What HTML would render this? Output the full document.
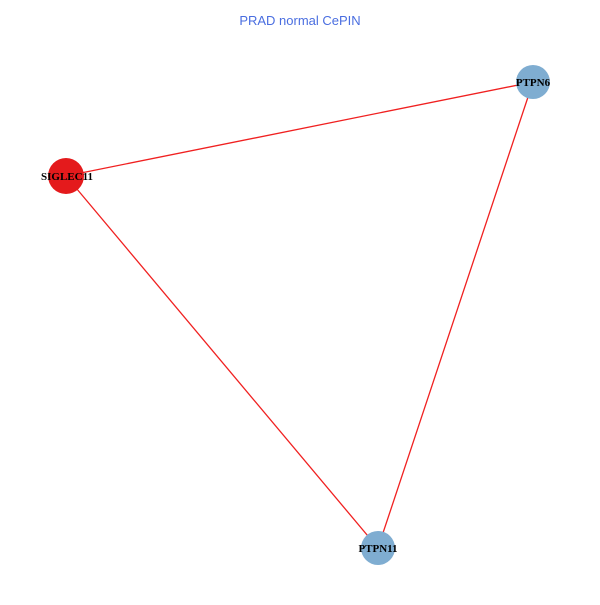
<!DOCTYPE html>
<html><head><style>body{margin:0;background:#fff}</style></head><body>
<svg width="600" height="600" xmlns="http://www.w3.org/2000/svg">
<rect width="600" height="600" fill="#fff"/>
<text x="300" y="25" text-anchor="middle" font-family="Liberation Sans, sans-serif" font-size="13" fill="#4a6ee0">PRAD normal CePIN</text>
<g stroke="#f02020" stroke-width="1.3">
<line x1="66" y1="176" x2="533" y2="82"/>
<line x1="66" y1="176" x2="378" y2="548"/>
<line x1="533" y1="82" x2="378" y2="548"/>
</g>
<circle cx="66" cy="176" r="18" fill="#e41a1c"/>
<circle cx="533" cy="82" r="17" fill="#7fadd1"/>
<circle cx="378" cy="548" r="17" fill="#7fadd1"/>
<g font-family="Liberation Serif, serif" font-weight="bold" font-size="11" text-anchor="middle" fill="#000">
<text x="67" y="180">SIGLEC11</text>
<text x="533" y="86">PTPN6</text>
<text x="378" y="552">PTPN11</text>
</g>
</svg>
</body></html>
